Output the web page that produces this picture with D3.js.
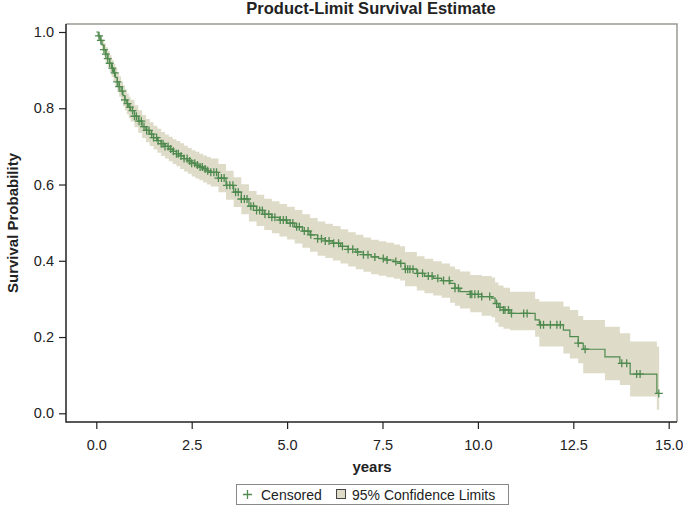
<!DOCTYPE html>
<html><head><meta charset="utf-8">
<script src="https://cdn.jsdelivr.net/npm/d3@7/dist/d3.min.js"></script>
<style>body{margin:0;background:#fff}svg{display:block}text{font-family:"Liberation Sans",Arial,sans-serif;fill:#222}</style>
</head><body><svg id="c" width="683" height="505"></svg>
<script>
// ---- data ----
const times = [0,0.05,0.1,0.15,0.2,0.25,0.3,0.35,0.4,0.45,0.5,0.55,0.6,0.65,0.7,0.75,0.8,0.85,0.9,1.0,1.1,1.2,1.3,1.4,1.5,1.6,1.7,1.8,1.9,2.0,2.1,2.2,2.3,2.4,2.5,2.6,2.7,2.8,2.9,3.0,3.2,3.4,3.6,3.8,4.0,4.2,4.4,4.6,4.8,5.0,5.2,5.4,5.6,5.8,6.0,6.2,6.4,6.6,6.8,7.0,7.2,7.4,7.6,7.8,7.96,8.09,8.4,8.6,8.83,9.05,9.27,9.4,9.53,9.8,10.1,10.36,10.45,10.54,10.67,10.84,11.5,11.61,12.24,12.41,12.63,12.76,13.33,13.72,13.99,14.69,14.75];
const survival = [1.000,0.990,0.978,0.966,0.954,0.942,0.930,0.918,0.905,0.893,0.881,0.869,0.857,0.845,0.833,0.822,0.812,0.803,0.794,0.779,0.766,0.752,0.742,0.732,0.723,0.715,0.707,0.700,0.693,0.687,0.681,0.675,0.668,0.662,0.656,0.651,0.646,0.641,0.636,0.632,0.617,0.598,0.580,0.562,0.543,0.532,0.522,0.514,0.507,0.499,0.489,0.478,0.468,0.458,0.452,0.446,0.438,0.430,0.423,0.416,0.410,0.406,0.402,0.398,0.393,0.378,0.367,0.360,0.354,0.348,0.341,0.328,0.319,0.312,0.306,0.302,0.288,0.278,0.271,0.262,0.245,0.232,0.218,0.201,0.184,0.168,0.148,0.131,0.103,0.052,0.052];
const lower = [1.000,0.980,0.965,0.950,0.936,0.922,0.909,0.896,0.882,0.869,0.856,0.843,0.830,0.818,0.805,0.794,0.784,0.774,0.765,0.750,0.736,0.722,0.711,0.701,0.692,0.683,0.675,0.668,0.661,0.654,0.648,0.641,0.634,0.628,0.621,0.616,0.611,0.605,0.600,0.595,0.580,0.560,0.541,0.522,0.503,0.491,0.481,0.472,0.464,0.456,0.445,0.434,0.424,0.413,0.407,0.401,0.393,0.385,0.378,0.371,0.365,0.361,0.357,0.353,0.348,0.333,0.322,0.315,0.309,0.303,0.290,0.282,0.275,0.265,0.256,0.252,0.238,0.227,0.222,0.218,0.201,0.175,0.157,0.144,0.131,0.105,0.087,0.074,0.044,0.009,0.009];
const upper = [1.000,0.998,0.990,0.980,0.970,0.960,0.950,0.939,0.927,0.916,0.905,0.894,0.883,0.871,0.860,0.849,0.839,0.830,0.822,0.808,0.795,0.782,0.772,0.763,0.754,0.746,0.738,0.731,0.725,0.719,0.714,0.708,0.702,0.696,0.690,0.686,0.681,0.676,0.672,0.668,0.654,0.636,0.619,0.601,0.583,0.573,0.563,0.556,0.549,0.542,0.533,0.522,0.512,0.503,0.497,0.491,0.483,0.475,0.468,0.461,0.455,0.451,0.447,0.443,0.438,0.423,0.412,0.405,0.399,0.393,0.385,0.378,0.372,0.363,0.360,0.356,0.343,0.335,0.329,0.319,0.300,0.293,0.280,0.271,0.255,0.245,0.227,0.210,0.188,0.175,0.175];
const censoredTimes = [0.07,0.12,0.2,0.25,0.3,0.35,0.42,0.48,0.55,0.6,0.68,0.75,0.82,0.88,0.95,1.0,1.05,1.12,1.18,1.25,1.32,1.38,1.45,1.5,1.58,1.62,1.7,1.75,1.8,1.88,1.95,2.02,2.1,2.15,2.22,2.3,2.38,2.45,2.5,2.58,2.65,2.72,2.78,2.85,2.92,3.0,3.08,3.15,3.2,3.28,3.35,3.42,3.5,3.58,3.65,3.72,3.8,3.88,3.95,4.05,4.12,4.2,4.28,4.35,4.42,4.52,4.6,4.68,4.82,4.9,4.98,5.08,5.15,5.25,5.32,5.45,5.55,5.62,5.8,5.9,6.0,6.1,6.22,6.35,6.45,6.6,6.72,6.85,7.0,7.12,7.3,7.52,7.62,7.85,7.98,8.1,8.16,8.22,8.3,8.42,8.55,8.7,8.8,8.95,9.1,9.25,9.4,9.49,9.8,9.84,9.92,10.01,10.1,10.31,10.49,10.58,10.67,10.71,10.8,10.88,11.2,11.29,11.64,11.72,11.9,12.07,12.16,12.63,12.81,13.77,13.9,14.16,14.25,14.74];
const xTicks = [0,2.5,5,7.5,10,12.5,15];
const yTicks = [0,0.2,0.4,0.6,0.8,1.0];

const rows = times.map((t,i)=>({t, s:survival[i], lo:lower[i], hi:upper[i]}));
const svg = d3.select('#c');
const L=66,R=677,T=24,B=422;
const x = d3.scaleLinear().domain([0,15]).range([96.3,668.7]);
const y = d3.scaleLinear().domain([0,1]).range([413.3,32]);
const green = '#4f8a4f', band = '#dedbc8';

// confidence band
svg.append('path').datum(rows)
  .attr('d', d3.area().curve(d3.curveStepAfter).x(d=>x(d.t)).y0(d=>y(d.lo)).y1(d=>y(d.hi)))
  .attr('fill', band);
// survival line
svg.append('path').datum(rows)
  .attr('d', d3.line().curve(d3.curveStepAfter).x(d=>x(d.t)).y(d=>y(d.s)))
  .attr('fill','none').attr('stroke',green).attr('stroke-width',1.2);
// censored marks
const sAt = t => survival[Math.max(0, d3.bisectRight(times, t)-1)];
svg.append('g').selectAll('path').data(censoredTimes).join('path')
  .attr('d', t=>{const cx=x(t), cy=y(sAt(t)); return `M${cx-4},${cy}H${cx+4}M${cx},${cy-4}V${cy+4}`;})
  .attr('stroke',green).attr('stroke-width',1.3).attr('fill','none');

// frame
svg.append('path').attr('d',`M${L},${T}H${R}V${B}`).attr('fill','none').attr('stroke','#9a9a92').attr('stroke-width',1.5);
svg.append('path').attr('d',`M${L},${T}V${B}H${R}`).attr('fill','none').attr('stroke','#222').attr('stroke-width',1.5);

// axes
const ya = svg.append('g').attr('transform',`translate(${L},0)`)
  .call(d3.axisLeft(y).tickValues(yTicks).tickFormat(d3.format('.1f')).tickSize(7).tickPadding(5));
const xa = svg.append('g').attr('transform',`translate(0,${B})`)
  .call(d3.axisBottom(x).tickValues(xTicks).tickFormat(d3.format('.1f')).tickSize(7).tickPadding(6));
[ya,xa].forEach(a=>{a.select('.domain').remove();a.selectAll('line').attr('stroke','#222').attr('stroke-width',1.2);
  a.selectAll('text').attr('font-size',14.5).attr('font-family','"Liberation Sans",Arial,sans-serif').attr('fill','#333');});
xa.selectAll('text').attr('dy','1.0em');

// titles
svg.append('text').attr('x',371).attr('y',14).attr('text-anchor','middle').attr('font-size',16.5).attr('font-weight','bold').text('Product-Limit Survival Estimate');
svg.append('text').attr('x',372).attr('y',472).attr('text-anchor','middle').attr('font-size',15).attr('font-weight','bold').text('years');
svg.append('text').attr('transform','translate(18,223) rotate(-90)').attr('text-anchor','middle').attr('font-size',15).attr('font-weight','bold').text('Survival Probability');

// legend
const lg = svg.append('g');
lg.append('rect').attr('x',236.5).attr('y',484.5).attr('width',272).attr('height',20).attr('fill','#fff').attr('stroke','#888').attr('stroke-width',1);
lg.append('path').attr('d','M243,494.5H252M247.5,490V499').attr('stroke',green).attr('stroke-width',1.3);
lg.append('text').attr('x',261).attr('y',499.5).attr('font-size',14).attr('fill','#333').text('Censored');
lg.append('rect').attr('x',336.5).attr('y',489.5).attr('width',9).attr('height',9).attr('fill',band).attr('stroke','#444').attr('stroke-width',1);
lg.append('text').attr('x',352).attr('y',499.5).attr('font-size',14).attr('fill','#333').text('95% Confidence Limits');
</script></body></html>
